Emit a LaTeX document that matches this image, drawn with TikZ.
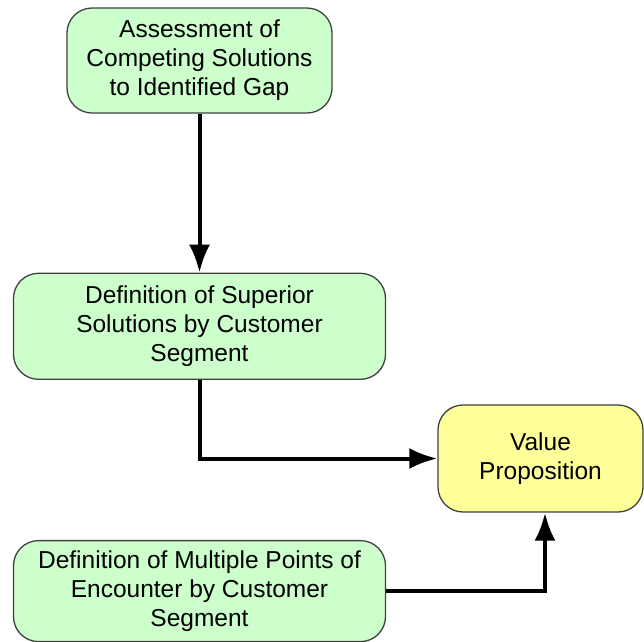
\documentclass[tikz,border=0pt]{standalone}
\usepackage{fontspec}
\setmainfont{Liberation Sans}
\usepackage{tikz}
\usetikzlibrary{arrows.meta,positioning}
\definecolor{boxgreen}{RGB}{204,255,204}
\definecolor{boxyellow}{RGB}{255,255,153}
\definecolor{boxborder}{RGB}{64,64,64}
\tikzstyle{block} = [rectangle, draw=boxborder, line width=1.3pt, fill=boxgreen,
text centered, rounded corners=25pt, align=center,
font=\fontsize{24.5}{29}\selectfont]
\tikzstyle{result} = [block, fill=boxyellow]
\tikzstyle{line} = [draw, line width=4pt, -{Latex[length=28pt,width=21pt]}]

\begin{document}
\begin{tikzpicture}
\useasboundingbox (0,0) rectangle (644pt,-641pt);
% Place nodes
\node [block, minimum width=265pt, minimum height=105pt] at (199.5pt,-60.5pt) (i1) {Assessment of\\Competing Solutions\\to Identified Gap};
\node [block, below=159pt of i1, minimum width=372pt, minimum height=106pt] (i2) {Definition of Superior\\Solutions by Customer\\Segment};
\node [result, minimum width=205pt, minimum height=107pt] at (540.5pt,-458.5pt) (i3) {Value\\Proposition};
\node [block, below=160pt of i2, minimum width=372pt, minimum height=101pt] (i4) {Definition of Multiple Points of\\Encounter by Customer\\Segment};

% Draw edges
\path [line] (i1) -- (i2);
\path [line] (i2) |- (i3);
\path [line] (i4) -| ([xshift=4.5pt]i3.south);
\end{tikzpicture}
\end{document}
